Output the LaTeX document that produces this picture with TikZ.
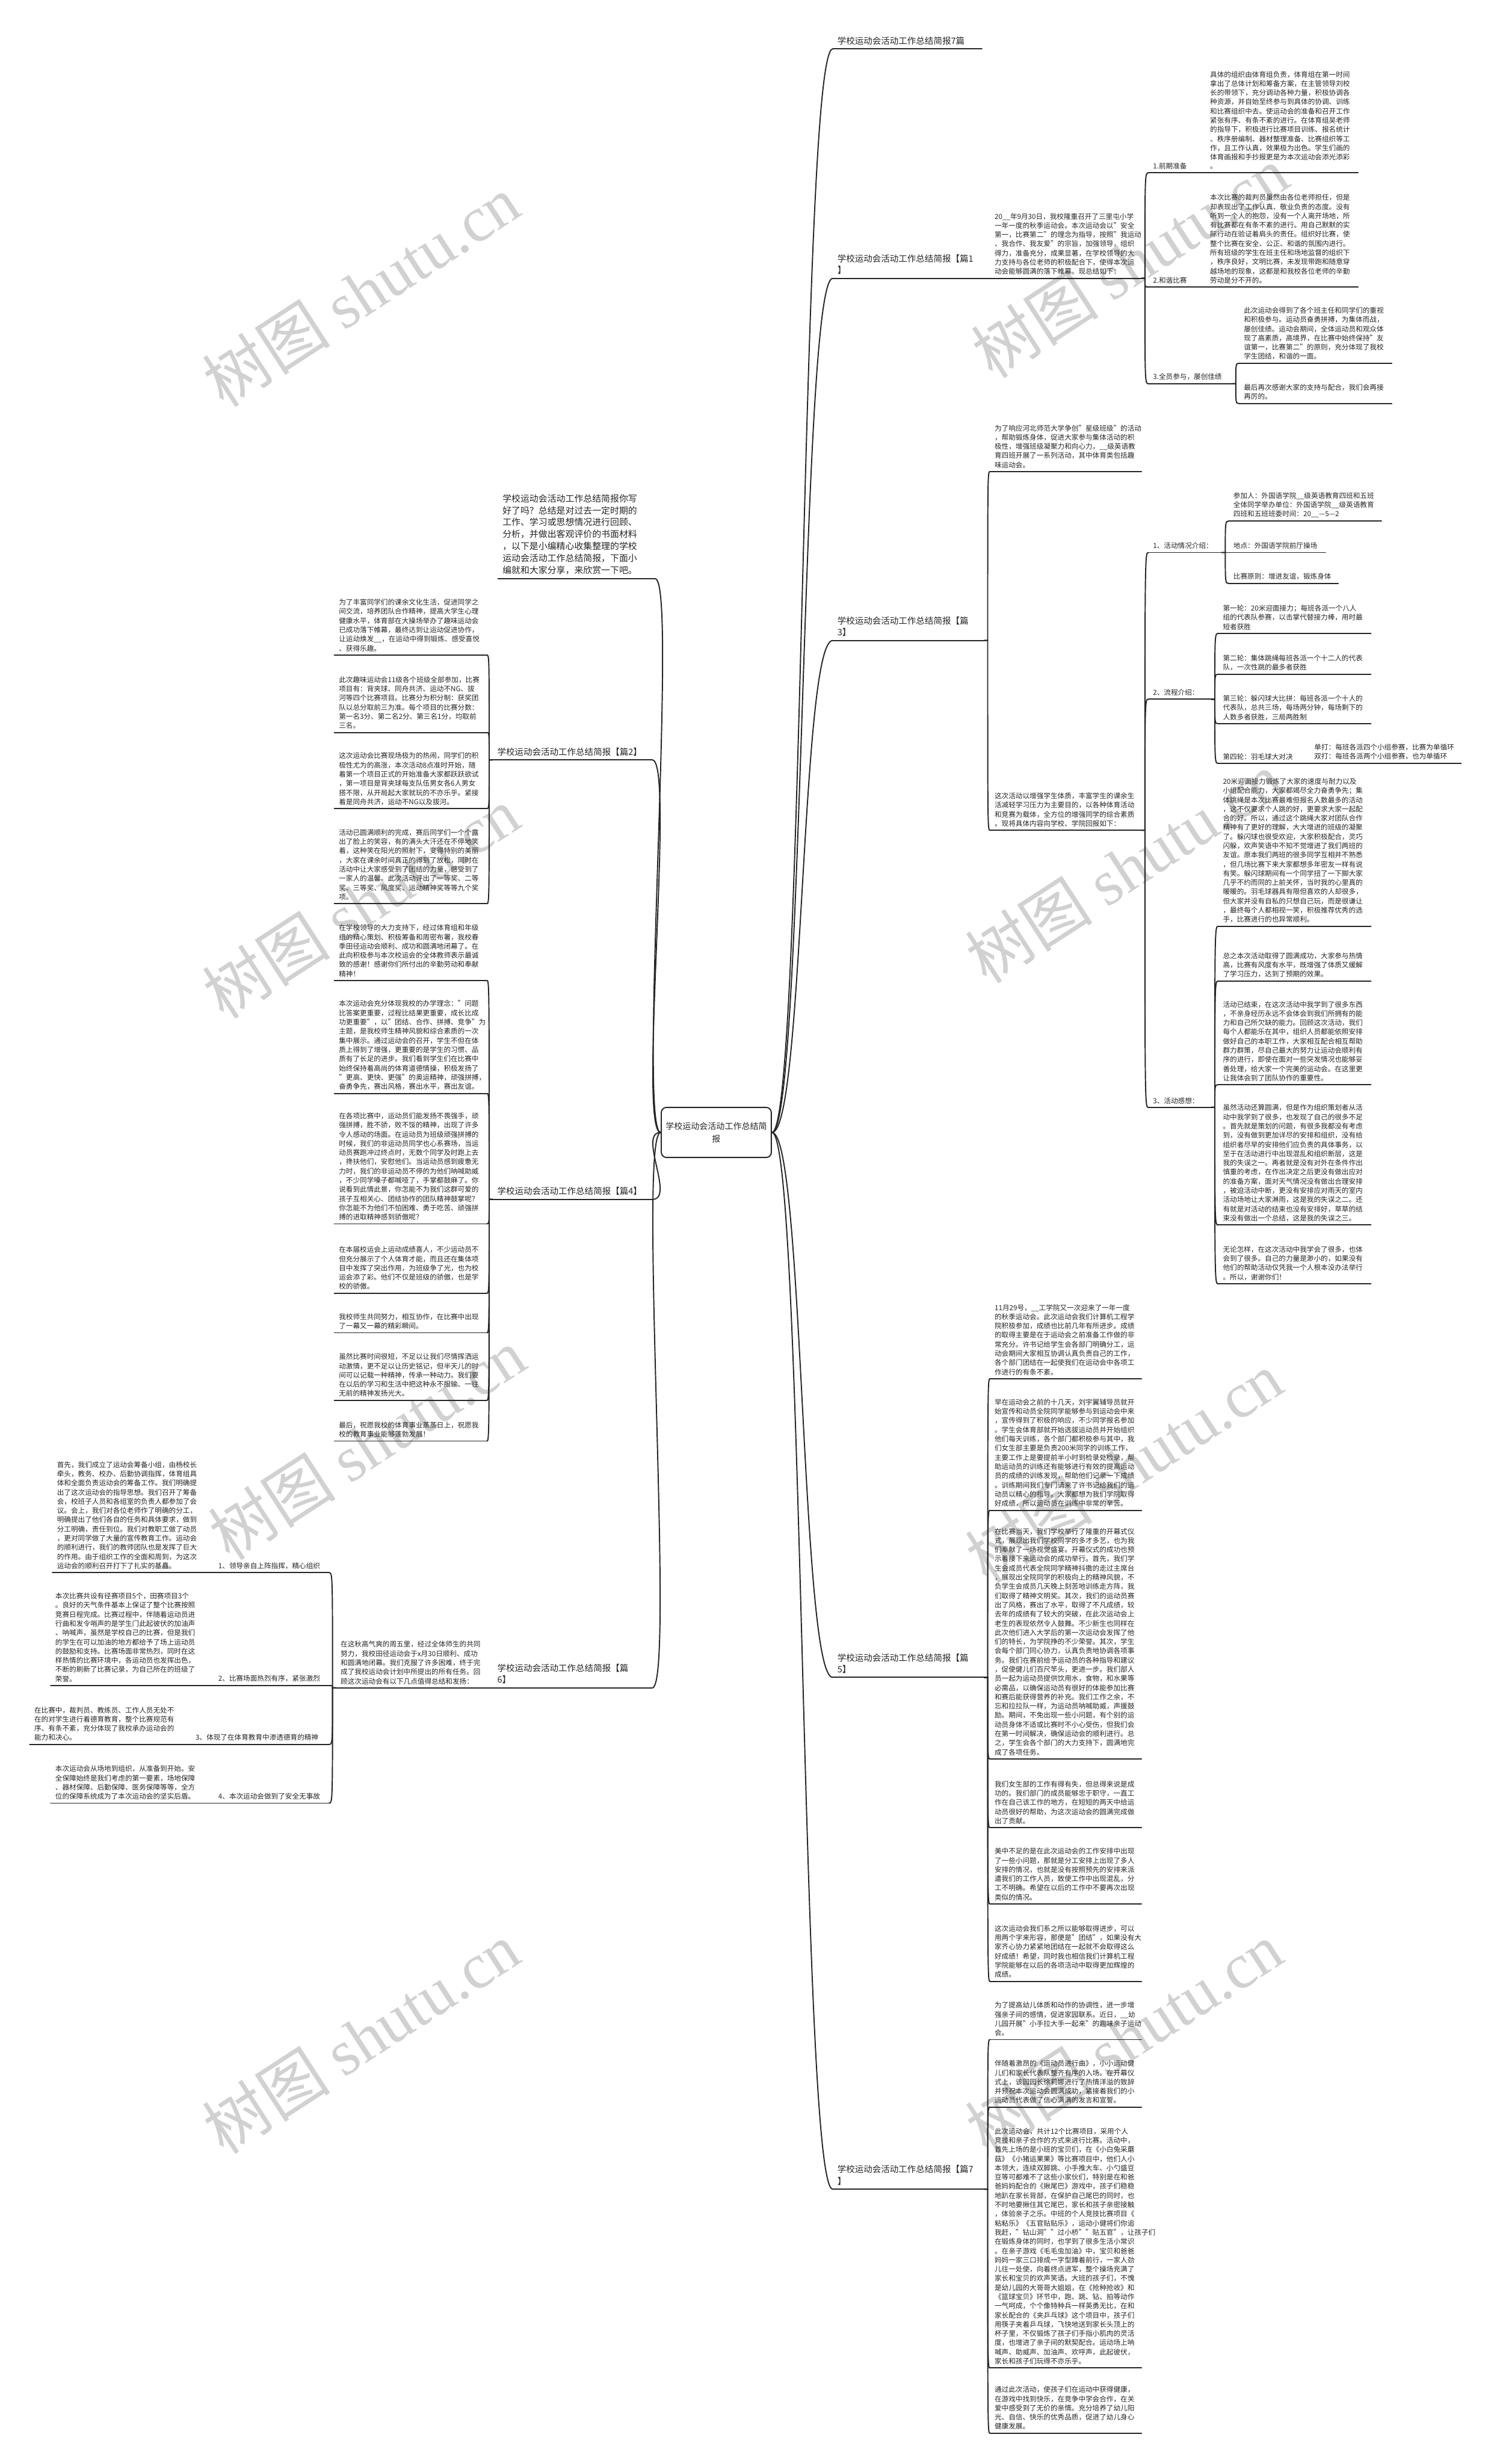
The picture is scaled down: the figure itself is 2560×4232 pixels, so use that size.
\documentclass[tikz,border=0pt]{standalone}
\usepackage{fontspec}
\setmainfont{Noto Sans CJK SC}
\newfontfamily\markserif{Liberation Serif}
\usetikzlibrary{calc}
\newcommand\bodyfont{\fontsize{12}{15.8}\selectfont}
\newcommand\headfont{\fontsize{15}{20}\selectfont}
\newcommand\introfont{\fontsize{15.4}{20.6}\selectfont}
\newcommand\rootfont{\fontsize{14.5}{21}\selectfont}
\newcommand\markfont{\fontsize{110}{120}\selectfont}
\tikzset{
	uline/.style={line width=2pt,line cap=round,black!85},%
	topic/.style={anchor=south west,align=left,inner xsep=8pt,inner ysep=6pt,outer sep=0pt,font=\bodyfont,text=black!85,text width=246pt,append after command={(\tikzlastnode.south west) edge[uline] (\tikzlastnode.south east)}},%
	ltopic/.style={topic,anchor=south east},%
	headline/.style={topic,font=\headfont,inner ysep=7pt,text width=244pt},%
	lheadline/.style={headline,anchor=south east,text width=258pt},%
	introtext/.style={ltopic,font=\introfont,inner ysep=7pt,text width=254pt},%
	rootbox/.style={draw=black!85,line width=2pt,rounded corners=9pt,align=center,font=\rootfont,text=black!85,minimum width=189pt,minimum height=86pt,inner sep=0pt},%
	watermark/.style={text=black!18,rotate=33,font=\markfont},%
	rlink/.style={to path={-- ++(6,0) coordinate (jn) .. controls (jn |- \tikztotarget) and (jn |- \tikztotarget) .. (\tikztotarget)}},%
	llink/.style={to path={-- ++(-6,0) coordinate (jn) .. controls (jn |- \tikztotarget) and (jn |- \tikztotarget) .. (\tikztotarget)}},%
	rootr/.style={to path={.. controls +(55,0) and +(-55,0) .. (\tikztotarget)}},%
	rootl/.style={to path={.. controls +(-40,0) and +(40,0) .. (\tikztotarget)}},%
}

\begin{document}
\begin{tikzpicture}[x=1pt,y=-1pt]
	\useasboundingbox (0,0) rectangle (2560,4232);
	\fill[white] (0,0) rectangle (2560,4232);
	\foreach \wx/\wy in {620/500,620/1550,630/2480,620/3500,1940/450,1930/1490,1930/2520,1930/3500}
		\node[watermark] at (\wx,\wy) {树图 {\markserif shutu.cn}};

	\node[rootbox] (c) at (1230,1945) {学校运动会活动工作总结简\\报};

	% right side
	\node[headline,text width=240pt] (t7) at (1430,84) {学校运动会活动工作总结简报7篇};

	\node[headline] (p1lab) at (1430,478) {学校运动会活动工作总结简报【篇1\\】};
	\node[topic,text width=244pt] (p1txt) at (1700,478) {20\_\_年9月30日，我校隆重召开了三里屯小学\\
一年一度的秋季运动会。本次运动会以"安全\\
第一，比赛第二"的理念为指导，按照"我运动\\
、我合作、我友爱"的宗旨，加强领导，组织\\
得力，准备充分，成果显著，在学校领导的大\\
力支持与各位老师的积极配合下，使得本次运\\
动会能够圆满的落下帷幕。现总结如下：};
	\node[topic,text width=70pt] (p1a) at (1972,297) {1.前期准备};
	\node[topic] (p1at) at (2070,297) {具体的组织由体育组负责，体育组在第一时间\\
拿出了总体计划和筹备方案，在主管领导刘校\\
长的带领下，充分调动各种力量，积极协调各\\
种资源，并自始至终参与到具体的协调、训练\\
和比赛组织中去。使运动会的准备和召开工作\\
紧张有序、有条不紊的进行。在体育组吴老师\\
的指导下，积极进行比赛项目训练、报名统计\\
、秩序册编制、器材整理准备、比赛组织等工\\
作，且工作认真，效果极为出色。学生们画的\\
体育画报和手抄报更是为本次运动会添光添彩\\
。};
	\node[topic,text width=70pt] (p1b) at (1972,493) {2.和谐比赛};
	\node[topic] (p1bt) at (2070,493) {本次比赛的裁判员虽然由各位老师担任，但是\\
却表现出了工作认真、敬业负责的态度。没有\\
听到一个人的抱怨，没有一个人离开场地，所\\
有比赛都在有条不紊的进行。用自己默默的实\\
际行动在验证着肩头的责任。组织好比赛，使\\
整个比赛在安全、公正、和谐的氛围内进行。\\
所有班级的学生在班主任和场地监督的组织下\\
，秩序良好，文明比赛，未发现带跑和随意穿\\
越场地的现象，这都是和我校各位老师的辛勤\\
劳动是分不开的。};
	\node[topic,text width=128pt] (p1c) at (1972,659) {3.全员参与，屡创佳绩};
	\node[topic] (p1ca) at (2128,624) {此次运动会得到了各个班主任和同学们的重视\\
和积极参与。运动员奋勇拼搏，为集体而战，\\
屡创佳绩。运动会期间，全体运动员和观众体\\
现了高素质，高境界，在比赛中始终保持"友\\
谊第一，比赛第二"的原则，充分体现了我校\\
学生团结，和谐的一面。};
	\node[topic] (p1cb) at (2128,693) {最后再次感谢大家的支持与配合，我们会再接\\
再厉的。};

	\node[headline] (p3lab) at (1430,1100) {学校运动会活动工作总结简报【篇\\3】};
	\node[topic,text width=244pt] (p3a) at (1700,810) {为了响应河北师范大学争创"星级班级"的活动\\
，帮助锻炼身体，促进大家参与集体活动的积\\
极性，增强班级凝聚力和向心力，\_\_级英语教\\
育四班开展了一系列活动，其中体育类包括趣\\
味运动会。};
	\node[topic,text width=244pt] (p3b) at (1700,1426) {这次活动以增强学生体质，丰富学生的课余生\\
活减轻学习压力为主要目的，以各种体育活动\\
和竞赛为载体，全方位的增强同学的综合素质\\
。现将具体内容向学校、学院回报如下：};
	\node[topic,text width=110pt] (p3b1) at (1972,949) {1、活动情况介绍：};
	\node[topic] (p3b1a) at (2110,895) {参加人：外国语学院\_\_级英语教育四班和五班\\
全体同学举办单位：外国语学院\_\_级英语教育\\
四班和五班班委时间：20\_\_—5—2};
	\node[topic,text width=150pt] (p3b1b) at (2110,949) {地点：外国语学院前厅操场};
	\node[topic,text width=172pt] (p3b1c) at (2110,1002) {比赛原则：增进友谊，锻炼身体};
	\node[topic,text width=92pt] (p3b2) at (1972,1201) {2、流程介绍：};
	\node[topic] (p3b2a) at (2092,1088) {第一轮：20米迎面接力；每班各派一个八人\\
组的代表队参赛，以击掌代替接力棒，用时最\\
短者获胜};
	\node[topic] (p3b2b) at (2092,1158) {第二轮：集体跳绳每班各派一个十二人的代表\\
队，一次性跳的最多者获胜};
	\node[topic] (p3b2c) at (2092,1243) {第三轮：躲闪球大比拼：每班各派一个十人的\\
代表队，总共三场，每场两分钟，每场剩下的\\
人数多者获胜，三局两胜制};
	\node[topic,text width=129pt] (p3b2d) at (2092,1311) {第四轮：羽毛球大对决};
	\node[topic,text width=244pt] (p3b2e) at (2249,1311) {单打：每班各派四个小组参赛，比赛为单循环\\
双打：每班各派两个小组参赛，也为单循环};
	\node[topic,text width=92pt] (p3b3) at (1972,1902) {3、活动感想：};
	\node[topic] (p3b3a) at (2092,1591) {20米迎面接力锻炼了大家的速度与耐力以及\\
小组配合能力，大家都竭尽全力奋勇争先；集\\
体跳绳是本次比赛最难但报名人数最多的活动\\
，这不仅要求个人跳的好，更要求大家一起配\\
合的好。所以，通过这个跳绳大家对团队合作\\
精神有了更好的理解，大大增进的班级的凝聚\\
了。躲闪球也很受欢迎，大家积极配合，灵巧\\
闪躲，欢声笑语中不知不觉增进了我们两班的\\
友谊。原本我们两班的很多同学互相并不熟悉\\
，但几场比赛下来大家都想多年密友一样有说\\
有笑。躲闪球期间有一个同学扭了一下脚大家\\
几乎不约而同的上前关怀，当时我的心里真的\\
暖暖的。羽毛球器具有限但喜欢的人却很多，\\
但大家并没有自私的只想自己玩，而是很谦让\\
，最终每个人都相视一笑，积极推荐优秀的选\\
手，比赛进行的也异常顺利。};
	\node[topic] (p3b3b) at (2092,1685) {总之本次活动取得了圆满成功，大家参与热情\\
高，比赛有风度有水平，既增强了体质又缓解\\
了学习压力，达到了预期的效果。};
	\node[topic] (p3b3c) at (2092,1863) {活动已结束，在这次活动中我学到了很多东西\\
，不亲身经历永远不会体会到我们所拥有的能\\
力和自己所欠缺的能力。回顾这次活动，我们\\
每个人都能乐在其中，组织人员都能依照安排\\
做好自己的本职工作，大家相互配合相互帮助\\
群力群策，尽自己最大的努力让运动会顺利有\\
序的进行，即使在面对一些突发情况也能够妥\\
善处理，给大家一个完美的运动会。在这里更\\
让我体会到了团队协作的重要性。};
	\node[topic] (p3b3d) at (2092,2104) {虽然活动还算圆满，但是作为组织策划者从活\\
动中我学到了很多，也发现了自己的很多不足\\
。首先就是策划的问题，有很多我都没有考虑\\
到，没有做到更加详尽的安排和组织，没有给\\
组织者尽早的安排他们应负责的具体事务，以\\
至于在活动进行中出现混乱和组织断层，这是\\
我的失误之一。再者就是没有对外在条件作出\\
慎重的考虑，在作出决定之后更没有做出应对\\
的准备方案，面对天气情况没有做出合理安排\\
，被迫活动中断，更没有安排应对雨天的室内\\
活动场地让大家淋雨，这是我的失误之二。还\\
有就是对活动的结束也没有安排好，草草的结\\
束没有做出一个总结，这是我的失误之三。};
	\node[topic] (p3b3e) at (2092,2205) {无论怎样，在这次活动中我学会了很多，也体\\
会到了很多。自己的力量是渺小的，如果没有\\
他们的帮助活动仅凭我一个人根本没办法举行\\
。所以，谢谢你们！};

	\node[headline] (p5lab) at (1430,2881) {学校运动会活动工作总结简报【篇\\5】};
	\node[topic,text width=244pt] (p5a) at (1700,2368) {11月29号，\_\_工学院又一次迎来了一年一度\\
的秋季运动会。此次运动会我们计算机工程学\\
院积极参加，成绩也比前几年有所进步。成绩\\
的取得主要是在于运动会之前准备工作做的非\\
常充分。许书记给学生会各部门明确分工，运\\
动会期间大家相互协调认真负责自己的工作，\\
各个部门团结在一起使我们在运动会中各项工\\
作进行的有条不紊。};
	\node[topic,text width=244pt] (p5b) at (1700,2594) {早在运动会之前的十几天，刘宇翼辅导员就开\\
始宣传和动员全院同学能够参与到运动会中来\\
，宣传得到了积极的响应，不少同学报名参加\\
。学生会体育部就开始选拔运动员并开始组织\\
他们每天训练，各个部门都积极参与其中，我\\
们女生部主要是负责200米同学的训练工作，\\
主要工作上是要提前半小时到检录处检录，帮\\
助运动员的训练还有能够进行有效的提高运动\\
员的成绩的训练发现，帮助他们记录一下成绩\\
。训练期间我们专门请来了许书记给我们的运\\
动员以精心的指导。大家都想为我们学院取得\\
好成绩，所以运动员在训练中非常的辛苦。};
	\node[topic,text width=244pt] (p5c) at (1700,3021) {在比赛当天，我们学校举行了隆重的开幕式仪\\
式，展现出我们学校同学的多才多艺，也为我\\
们奉献了一场视觉盛宴。开幕仪式的成功也预\\
示着接下来运动会的成功举行。首先，我们学\\
生会成员代表全院同学精神抖擞的走过主席台\\
，展现出全院同学的积极向上的精神风貌，不\\
负学生会成员几天晚上刻苦地训练走方阵，我\\
们取得了精神文明奖。其次，我们的运动员赛\\
出了风格，赛出了水平，取得了不凡成绩，较\\
去年的成绩有了较大的突破，在此次运动会上\\
老生的表现依然令人鼓舞。不少新生也同样在\\
此次他们进入大学后的第一次运动会发挥了他\\
们的特长，为学院挣的不少荣誉。其次，学生\\
会每个部门同心协力，认真负责地协调各项事\\
务。我们在赛前给予运动员的各种指导和建议\\
，促使健儿们百尺竿头，更进一步。我们部人\\
员一起为运动员提供饮用水，食物，和水果等\\
必需品，以确保运动员有很好的体能参加比赛\\
和赛后能获得营养的补充。我们工作之余，不\\
忘和拉拉队一样，为运动员呐喊助威，声援鼓\\
励。期间，不免出现一些小问题，有个别的运\\
动员身体不适或比赛时不小心受伤，但我们会\\
在第一时间解决，确保运动会的顺利进行。总\\
之，学生会各个部门的大力支持下，圆满地完\\
成了各项任务。};
	\node[topic,text width=244pt] (p5d) at (1700,3139) {我们女生部的工作有得有失，但总得来说是成\\
功的。我们部门的成员能够忠于职守，一直工\\
作在自己该工作的地方，在短短的两天中给运\\
动员很好的帮助，为这次运动会的圆满完成做\\
出了贡献。};
	\node[topic,text width=244pt] (p5e) at (1700,3270) {美中不足的是在此次运动会的工作安排中出现\\
了一些小问题，那就是分工安排上出现了多人\\
安排的情况，也就是没有按照预先的安排来派\\
遣我们的工作人员，致使工作中出现混乱，分\\
工不明确。希望在以后的工作中不要再次出现\\
类似的情况。};
	\node[topic,text width=244pt] (p5f) at (1700,3403) {这次运动会我们系之所以能够取得进步，可以\\
用两个字来形容，那便是"团结"，如果没有大\\
家齐心协力紧紧地团结在一起就不会取得这么\\
好成绩！希望，同时我也相信我们计算机工程\\
学院能够在以后的各项活动中取得更加辉煌的\\
成绩。};

	\node[headline] (p7lab) at (1430,3760) {学校运动会活动工作总结简报【篇7\\】};
	\node[topic,text width=244pt] (p7a) at (1700,3503) {为了提高幼儿体质和动作的协调性，进一步增\\
强亲子间的感情，促进家园联系。近日，\_\_幼\\
儿园开展"小手拉大手一起来"的趣味亲子运动\\
会。};
	\node[topic,text width=244pt] (p7b) at (1700,3619) {伴随着激昂的《运动员进行曲》，小小运动健\\
儿们和家长代表队整齐有序的入场。在开幕仪\\
式上，该园园长徐莉娜进行了热情洋溢的致辞\\
并预祝本次运动会圆满成功，紧接着我们的小\\
运动员代表做了信心满满的发言和宣誓。};
	\node[topic,text width=244pt] (p7c) at (1700,4067) {此次运动会，共计12个比赛项目，采用个人\\
竞技和亲子合作的方式来进行比赛。活动中，\\
首先上场的是小班的宝贝们，在《小白兔采蘑\\
菇》《小猪运果果》等比赛项目中，他们人小\\
本领大，连续双脚跳、小手推大车、小勺盛豆\\
豆等可都难不了这些小家伙们，特别是在和爸\\
爸妈妈配合的《揪尾巴》游戏中，孩子们稳稳\\
地趴在家长背部，在保护自己尾巴的同时，也\\
不时地要揪住其它尾巴，家长和孩子亲密接触\\
，体验亲子之乐。中班的个人竞技比赛项目《\\
粘粘乐》《五官贴贴乐》，运动小健将们你追\\
我赶，"钻山洞""过小桥""贴五官"，让孩子们\\
在锻炼身体的同时，也学到了很多生活小常识\\
。在亲子游戏《毛毛虫加油》中，宝贝和爸爸\\
妈妈一家三口排成一字型蹲着前行，一家人劲\\
儿往一处使，向着终点进军，整个操场充满了\\
家长和宝贝的欢声笑语。大班的孩子们，不愧\\
是幼儿园的大哥哥大姐姐，在《抢种抢收》和\\
《篮球宝贝》环节中，跑、跳、钻、拍等动作\\
一气呵成，个个像特种兵一样英勇无比，在和\\
家长配合的《夹乒乓球》这个项目中，孩子们\\
用筷子夹着乒乓球，飞快地送到家长头顶上的\\
杯子里，不仅锻炼了孩子们手指小肌肉的灵活\\
度，也增进了亲子间的默契配合。运动场上呐\\
喊声、助威声、加油声、欢呼声，此起彼伏，\\
家长和孩子们玩得不亦乐乎。};
	\node[topic,text width=244pt] (p7d) at (1700,4179) {通过此次活动，使孩子们在运动中获得健康，\\
在游戏中找到快乐，在竞争中学会合作，在关\\
爱中感受到了无价的亲情。充分培养了幼儿阳\\
光、自信、快乐的优秀品质，促进了幼儿身心\\
健康发展。};

	% left side
	\node[introtext] (intro) at (1125,994) {学校运动会活动工作总结简报你写\\
好了吗？总结是对过去一定时期的\\
工作、学习或思想情况进行回顾、\\
分析，并做出客观评价的书面材料\\
，以下是小编精心收集整理的学校\\
运动会活动工作总结简报，下面小\\
编就和大家分享，来欣赏一下吧。};

	\node[lheadline] (p2lab) at (1120,1305) {学校运动会活动工作总结简报【篇2】};
	\node[ltopic] (p2a) at (836,1125) {为了丰富同学们的课余文化生活，促进同学之\\
间交流，培养团队合作精神，提高大学生心理\\
健康水平，体育部在大操场举办了趣味运动会\\
已成功落下帷幕，最终达到让运动促进协作，\\
让运动焕发\_\_，在运动中得到锻炼、感受喜悦\\
、获得乐趣。};
	\node[ltopic] (p2b) at (836,1258) {此次趣味运动会11级各个班级全部参加，比赛\\
项目有：背夹球、同舟共济、运动不NG、拔\\
河等四个比赛项目。比赛分为积分制：获奖团\\
队以总分取前三为准。每个项目的比赛分数：\\
第一名3分、第二名2分、第三名1分，均取前\\
三名。};
	\node[ltopic] (p2c) at (836,1389) {这次运动会比赛现场极为的热闹，同学们的积\\
极性尤为的高涨，本次活动8点准时开始，随\\
着第一个项目正式的开始准备大家都跃跃欲试\\
，第一项目是背夹球每支队伍男女各6人男女\\
搭不限，从开局起大家就玩的不亦乐乎。紧接\\
着是同舟共济，运动不NG以及拔河。};
	\node[ltopic] (p2d) at (836,1552) {活动已圆满顺利的完成，赛后同学们一个个露\\
出了脸上的笑容，有的满头大汗还在不停地笑\\
着，这种笑在阳光的照射下，变得特别的美丽\\
，大家在课余时间真正的得到了放松，同时在\\
活动中让大家感受到了团结的力量，感受到了\\
一家人的温馨。此次活动评出了一等奖、二等\\
奖、三等奖、风度奖、运动精神奖等等九个奖\\
项。};

	\node[lheadline] (p4lab) at (1120,2060) {学校运动会活动工作总结简报【篇4】};
	\node[ltopic] (p4a) at (836,1684) {在学校领导的大力支持下，经过体育组和年级\\
组的精心策划、积极筹备和周密布署，我校春\\
季田径运动会顺利、成功和圆满地闭幕了。在\\
此向积极参与本次校运会的全体教师表示最诚\\
致的感谢！感谢你们所付出的辛勤劳动和奉献\\
精神！};
	\node[ltopic] (p4b) at (836,1878) {本次运动会充分体现我校的办学理念："问题\\
比答案更重要，过程比结果更重要，成长比成\\
功更重要"，以"团结、合作、拼搏、竞争"为\\
主题，是我校师生精神风貌和综合素质的一次\\
集中展示。通过运动会的召开，学生不但在体\\
质上得到了增强，更重要的是学生的习惯、品\\
质有了长足的进步。我们看到学生们在比赛中\\
始终保持着高尚的体育道德情操，积极发扬了\\
"更高、更快、更强"的奥运精神，顽强拼搏，\\
奋勇争先，赛出风格，赛出水平，赛出友谊。};
	\node[ltopic] (p4c) at (836,2102) {在各项比赛中，运动员们能发扬不畏强手，顽\\
强拼搏，胜不骄，败不馁的精神，出现了许多\\
令人感动的场面。在运动员为班级顽强拼搏的\\
时候，我们的非运动员同学也心系赛场，当运\\
动员赛跑冲过终点时，无数个同学及时跑上去\\
，搀扶他们，安慰他们。当运动员感到疲惫无\\
力时，我们的非运动员不停的为他们呐喊助威\\
，不少同学嗓子都喊哑了，手掌都鼓麻了。你\\
说看到此情此景，你怎能不为我们这群可爱的\\
孩子互相关心、团结协作的团队精神鼓掌呢？\\
你怎能不为他们不怕困难、勇于吃苦、顽强拼\\
搏的进取精神感到骄傲呢？};
	\node[ltopic] (p4d) at (836,2221) {在本届校运会上运动成绩喜人，不少运动员不\\
但充分展示了个人体育才能，而且还在集体项\\
目中发挥了突出作用，为班级争了光，也为校\\
运会添了彩。他们不仅是班级的骄傲，也是学\\
校的骄傲。};
	\node[ltopic] (p4e) at (836,2289) {我校师生共同努力，相互协作，在比赛中出现\\
了一幕又一幕的精彩瞬间。};
	\node[ltopic] (p4f) at (836,2405) {虽然比赛时间很短，不足以让我们尽情挥洒运\\
动激情，更不足以让历史铭记，但半天儿的时\\
间可以记载一种精神，传承一种动力。我们要\\
在以后的学习和生活中把这种永不服输、一往\\
无前的精神发扬光大。};
	\node[ltopic] (p4g) at (836,2475) {最后，祝愿我校的体育事业蒸蒸日上，祝愿我\\
校的教育事业能够蓬勃发展！};

	\node[lheadline] (p6lab) at (1120,2899) {学校运动会活动工作总结简报【篇\\6】};
	\node[ltopic,text width=247pt] (p6txt) at (840,2899) {在这秋高气爽的周五里，经过全体师生的共同\\
努力，我校田径运动会于x月30日顺利、成功\\
和圆满地闭幕。我们克服了许多困难，终于完\\
成了我校运动会计划中所提出的所有任务。回\\
顾这次运动会有以下几点值得总结和发扬：};
	\node[ltopic,text width=182pt] (s1) at (565,2701) {1、领导亲自上阵指挥，精心组织};
	\node[ltopic,text width=255pt] (f1) at (361,2701) {首先，我们成立了运动会筹备小组，由杨校长\\
牵头，教务、校办、后勤协调指挥，体育组具\\
体和全面负责运动会的筹备工作。我们明确提\\
出了这次运动会的指导思想。我们召开了筹备\\
会，校班子人员和各组室的负责人都参加了会\\
议。会上，我们对各位老师作了明确的分工，\\
明确提出了他们各自的任务和具体要求，做到\\
分工明确，责任到位。我们对教职工做了动员\\
，更对同学做了大量的宣传教育工作。运动会\\
的顺利进行，我们的教师团队也是发挥了巨大\\
的作用。由于组织工作的全面和周到，为这次\\
运动会的顺利召开打下了扎实的基矗。};
	\node[ltopic,text width=182pt] (s2) at (565,2895) {2、比赛场面热烈有序，紧张激烈};
	\node[ltopic,text width=258pt] (f2) at (361,2895) {本次比赛共设有径赛项目5个，田赛项目3个\\
。良好的天气条件基本上保证了整个比赛按照\\
竞赛日程完成。比赛过程中，伴随着运动员进\\
行曲和发令哨声的是学生门此起彼伏的加油声\\
、呐喊声，虽然是学校自己的比赛，但是我们\\
的学生在可以加油的地方都给予了场上运动员\\
的鼓励和支持。比赛场面非常热烈，同时在这\\
样热情的比赛环境中，各运动员也发挥出色，\\
不断的刷新了比赛记录，为自己所在的班级了\\
荣誉。};
	\node[ltopic,text width=221pt] (s3) at (565,2996) {3、体现了在体育教育中渗透德育的精神};
	\node[ltopic,text width=255pt] (f3) at (322,2996) {在比赛中，裁判员、教练员、工作人员无处不\\
在的对学生进行着德育教育，整个比赛规范有\\
序、有条不紊，充分体现了我校承办运动会的\\
能力和决心。};
	\node[ltopic,text width=182pt] (s4) at (565,3097) {4、本次运动会做到了安全无事故};
	\node[ltopic,text width=258pt] (f4) at (361,3097) {本次运动会从场地到组织，从准备到开始。安\\
全保障始终是我们考虑的第一要素，场地保障\\
、器材保障、后勤保障、医务保障等等，全方\\
位的保障系统成为了本次运动会的坚实后盾。};

	% connectors
	\foreach \k in {t7,p1lab,p3lab,p5lab,p7lab}
		\draw[uline] (c.east) to[rootr] (\k.south west);
	\foreach \k in {intro,p2lab,p4lab,p6lab}
		\draw[uline] (c.west) to[rootl] (\k.south east);
	\draw[uline] (p1lab.south east) to[rlink] (p1txt.south west);
	\foreach \k in {p1a,p1b,p1c}
		\draw[uline] (p1txt.south east) to[rlink] (\k.south west);
	\draw[uline] (p1a.south east) to[rlink] (p1at.south west);
	\draw[uline] (p1b.south east) to[rlink] (p1bt.south west);
	\foreach \k in {p1ca,p1cb}
		\draw[uline] (p1c.south east) to[rlink] (\k.south west);
	\foreach \k in {p3a,p3b}
		\draw[uline] (p3lab.south east) to[rlink] (\k.south west);
	\foreach \k in {p3b1,p3b2,p3b3}
		\draw[uline] (p3b.south east) to[rlink] (\k.south west);
	\foreach \k in {p3b1a,p3b1b,p3b1c}
		\draw[uline] (p3b1.south east) to[rlink] (\k.south west);
	\foreach \k in {p3b2a,p3b2b,p3b2c,p3b2d}
		\draw[uline] (p3b2.south east) to[rlink] (\k.south west);
	\draw[uline] (p3b2d.south east) to[rlink] (p3b2e.south west);
	\foreach \k in {p3b3a,p3b3b,p3b3c,p3b3d,p3b3e}
		\draw[uline] (p3b3.south east) to[rlink] (\k.south west);
	\foreach \k in {p5a,p5b,p5c,p5d,p5e,p5f}
		\draw[uline] (p5lab.south east) to[rlink] (\k.south west);
	\foreach \k in {p7a,p7b,p7c,p7d}
		\draw[uline] (p7lab.south east) to[rlink] (\k.south west);
	\foreach \k in {p2a,p2b,p2c,p2d}
		\draw[uline] (p2lab.south west) to[llink] (\k.south east);
	\foreach \k in {p4a,p4b,p4c,p4d,p4e,p4f,p4g}
		\draw[uline] (p4lab.south west) to[llink] (\k.south east);
	\draw[uline] (p6lab.south west) to[llink] (p6txt.south east);
	\foreach \k in {s1,s2,s3,s4}
		\draw[uline] (p6txt.south west) to[llink] (\k.south east);
	\foreach \s/\f in {s1/f1,s2/f2,s3/f3,s4/f4}
		\draw[uline] (\s.south west) to[llink] (\f.south east);
\end{tikzpicture}
\end{document}
